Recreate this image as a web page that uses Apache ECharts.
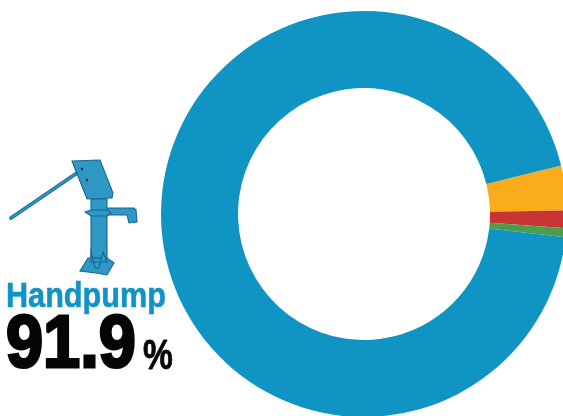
<!DOCTYPE html>
<html><head><meta charset="utf-8">
<style>html,body{margin:0;padding:0;background:#fff}#c{width:563px;height:416px}</style>
<script src="https://cdn.jsdelivr.net/npm/echarts@6/dist/echarts.min.js"></script>
</head><body><div id="c"></div>
<script>
const categories = ['Other A', 'Other B', 'Other C', 'Handpump'];
const values = [3.55, 1.4, 0.72, 94.33];
const colors = ['#faac1a', '#cb3434', '#4c9e4a', '#1094c4'];
const label = 'Handpump';
const share = '91.9';
const unit = '%';
const pumpFill = '#2f97c6', pumpEdge = '#17688f';
const poly = (points, fill, z) => ({type:'polygon', z:z||5, shape:{points}, style:{fill:fill||pumpFill, stroke:pumpEdge, lineWidth:1.1}});
const chart = echarts.init(document.getElementById('c'), null, {renderer:'canvas'});
chart.setOption({
  animation:false,
  backgroundColor:'#fff',
  series:[{
    type:'pie', center:[364,214], radius:[126,203], startAngle:13.8, clockwise:true,
    silent:true, label:{show:false}, labelLine:{show:false}, itemStyle:{borderWidth:0},
    data:categories.map((name,i)=>({name,value:values[i],itemStyle:{color:colors[i]}}))
  }],
  graphic:[
    {type:'line', z:4, shape:{x1:11,y1:218,x2:77,y2:173}, style:{stroke:pumpEdge,lineWidth:3.8,lineCap:'round'}},
    {type:'line', z:4, shape:{x1:11,y1:218,x2:77,y2:173}, style:{stroke:pumpFill,lineWidth:2,lineCap:'round'}},
    poly([[72,161],[100,160],[113,193],[112,198],[87,199]]),
    {type:'circle', z:6, shape:{cx:82,cy:169,r:1.2}, style:{fill:'#123'}},
    {type:'circle', z:6, shape:{cx:87,cy:180,r:1.2}, style:{fill:'#123'}},
    poly([[107,208],[134,208],[136,210],[137,222],[129,223],[127,215],[107,215]]),
    poly([[91,199],[107,199],[107,258],[91,258]]),
    poly([[85,212],[91,210],[107,210],[111,213],[107,216],[91,216]]),
    poly([[80,271],[88,258],[107,258],[114,263],[107,275],[96,273]]),
    poly([[91,252],[95,268],[99,268],[103,252],[107,262],[91,262]]),
    {type:'text', z:7, x:6, y:280, scaleX:0.875, style:{text:label, font:'bold 35px "Liberation Sans"', fill:'#1094c4', textBaseline:'top', stroke:'#1094c4', lineWidth:0.6}},
    {type:'text', z:7, x:6, y:309, scaleX:0.89, style:{text:share, font:'bold 75px "Liberation Sans"', fill:'#050505', textBaseline:'top', stroke:'#050505', lineWidth:3}},
    {type:'text', z:7, x:143, y:336, scaleX:0.78, style:{text:unit, font:'bold 43px "Liberation Sans"', fill:'#050505', textBaseline:'top', stroke:'#050505', lineWidth:0.8}}
  ]
});
</script></body></html>
